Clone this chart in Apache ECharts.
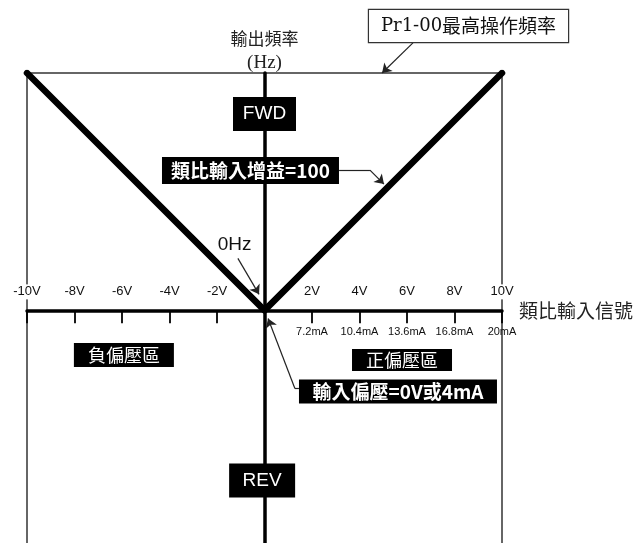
<!DOCTYPE html>
<html>
<head>
<meta charset="utf-8">
<title>類比輸入增益</title>
<script src="https://cdn.jsdelivr.net/npm/echarts@6/dist/echarts.min.js"></script>
<style>
    html, body { margin: 0; padding: 0; background: #fff; }
    #chart { width: 639px; height: 543px; }
</style>
</head>
<body>
<div id="chart"></div>
<script>
const VOLT_TICKS = [-10, -8, -6, -4, -2, 2, 4, 6, 8, 10];
const VOLT_LABELS = ['-10V', '-8V', '-6V', '-4V', '-2V', '2V', '4V', '6V', '8V', '10V'];
const CURRENT_TICKS = [2, 4, 6, 8, 10];
const CURRENT_LABELS = ['7.2mA', '10.4mA', '13.6mA', '16.8mA', '20mA'];
const GAIN_CURVE = [[-10, 100], [0, 0], [10, 100]];
const MAX_FREQ = 100;
const MIN_FREQ = -98;

const SANS = "'Liberation Sans', Arial, sans-serif";
const CJK = "'Noto Sans CJK TC', sans-serif";
const SERIF = "'DejaVu Serif', 'Noto Sans CJK TC', serif";

// black tag boxes etc., placed in data space
function tag(text, at, w, h, font) {
    return {
        value: at,
        label: {
            show: true,
            position: 'inside',
            formatter: text,
            width: w,
            height: h,
            lineHeight: h,
            padding: 0,
            align: 'center',
            verticalAlign: 'middle',
            backgroundColor: '#000',
            color: '#fff',
            fontFamily: font.family,
            fontSize: font.size,
            fontWeight: font.weight || 'normal'
        }
    };
}

const notes = [
    tag('FWD', [0, 82.7], 63, 34, { family: SANS, size: 19 }),
    tag('REV', [-0.1, -71.7], 66, 34, { family: SANS, size: 19 }),
    tag('類比輸入增益=100', [-0.59, 58.9], 177, 27, { family: CJK, size: 19, weight: 'bold' }),
    tag('輸入偏壓=0V或4mA', [5.62, -34.2], 198, 24, { family: CJK, size: 19, weight: 'bold' }),
    tag('負偏壓區', [-5.92, -18.8], 100, 24, { family: CJK, size: 18 }),
    tag('正偏壓區', [5.79, -20.9], 100, 22, { family: CJK, size: 18 }),
    {
        value: [-1.26, 27.8],
        label: {
            show: true,
            position: 'inside',
            formatter: '0Hz',
            backgroundColor: '#fff',
            padding: [1, 2],
            color: '#111',
            fontFamily: SANS,
            fontSize: 19
        }
    },
    {
        value: [8.59, 119.8],
        label: {
            show: true,
            position: 'inside',
            formatter: '{p|Pr1-00}{c|最高操作頻率}',
            width: 199,
            height: 32,
            lineHeight: 32,
            padding: 0,
            align: 'center',
            verticalAlign: 'middle',
            backgroundColor: '#fff',
            borderColor: '#333',
            borderWidth: 1.2,
            rich: {
                p: { fontFamily: SERIF, fontSize: 18, color: '#111', lineHeight: 32 },
                c: { fontFamily: CJK, fontSize: 19, color: '#111', lineHeight: 32 }
            }
        }
    }
];

const bendSegments = [
    [[3.14, 59.1], [4.44, 59.1]],
    [[1.45, -32.9], [1.28, -32.9]]
];
const arrowSegments = [
    [[6.25, 112.7], [4.95, 100]],
    [[4.44, 59.1], [5.03, 53.2]],
    [[-1.12, 21.9], [-0.23, 6.75]],
    [[1.28, -32.9], [0.15, -3.4]]
];

const frameSegments = [
    [[-10, MAX_FREQ], [10, MAX_FREQ]],
    [[-10, MAX_FREQ], [-10, MIN_FREQ]],
    [[10, MAX_FREQ], [10, MIN_FREQ]]
];

const chart = echarts.init(document.getElementById('chart'));

chart.setOption({
    animation: false,
    backgroundColor: '#fff',
    grid: { left: 27, right: 137, top: 73, bottom: 0 },
    xAxis: {
        type: 'value',
        min: -10,
        max: 10,
        interval: 2,
        z: 3,
        splitLine: { show: false },
        axisLine: { show: true, onZero: true, lineStyle: { color: '#000', width: 3.5 } },
        axisTick: { show: true, inside: false, length: 13, lineStyle: { color: '#000', width: 1.8 } },
        axisLabel: { show: false },
        name: '類比輸入信號',
        nameLocation: 'end',
        nameGap: 17,
        nameTextStyle: { fontFamily: CJK, fontSize: 19, color: '#222' }
    },
    yAxis: {
        type: 'value',
        min: MIN_FREQ,
        max: MAX_FREQ,
        z: 3,
        splitLine: { show: false },
        axisTick: { show: false },
        axisLabel: { show: false },
        axisLine: { show: true, onZero: true, lineStyle: { color: '#000', width: 3.5 } },
        name: '{a|輸出頻率}\n{b|(Hz)}',
        nameLocation: 'end',
        nameGap: -2,
        nameTextStyle: {
            align: 'center',
            verticalAlign: 'bottom',
            rich: {
                a: { fontFamily: CJK, fontSize: 17, color: '#222', lineHeight: 24 },
                b: { fontFamily: "'Liberation Serif', serif", fontSize: 19, color: '#222', lineHeight: 24 }
            }
        }
    },
    series: [
        {
            type: 'lines',
            coordinateSystem: 'cartesian2d',
            z: 1,
            silent: true,
            clip: false,
            symbol: ['none', 'none'],
            lineStyle: { color: '#333', width: 1.5, opacity: 1 },
            data: frameSegments.map((coords) => ({ coords }))
        },
        {
            type: 'line',
            z: 2,
            silent: true,
            symbol: 'none',
            data: GAIN_CURVE,
            lineStyle: { color: '#000', width: 6.5, cap: 'round', join: 'round' }
        },
        {
            // voltage labels above the axis, white boxes cut the lines
            type: 'scatter',
            z: 4,
            silent: true,
            symbolSize: 0,
            itemStyle: { opacity: 1 },
            data: VOLT_TICKS.map((x, i) => ({ value: [x, 0], name: VOLT_LABELS[i] })),
            label: {
                show: true,
                position: 'top',
                distance: 11,
                formatter: '{b}',
                color: '#111',
                backgroundColor: '#fff',
                padding: [1, 1],
                fontFamily: SANS,
                fontSize: 13
            }
        },
        {
            type: 'scatter',
            z: 4,
            silent: true,
            symbolSize: 0,
            itemStyle: { opacity: 1 },
            data: CURRENT_TICKS.map((x, i) => ({ value: [x, 0], name: CURRENT_LABELS[i] })),
            label: {
                show: true,
                position: 'bottom',
                distance: 16,
                formatter: '{b}',
                color: '#111',
                fontFamily: SANS,
                fontSize: 11
            }
        },
        {
            type: 'lines',
            coordinateSystem: 'cartesian2d',
            z: 9,
            silent: true,
            clip: false,
            symbol: ['none', 'none'],
            lineStyle: { color: '#222', width: 1.2, opacity: 1 },
            data: bendSegments.map((coords) => ({ coords }))
        },
        {
            type: 'lines',
            coordinateSystem: 'cartesian2d',
            z: 9,
            silent: true,
            clip: false,
            symbol: ['none', 'arrow'],
            symbolSize: 9,
            lineStyle: { color: '#222', width: 1.2, opacity: 1 },
            data: arrowSegments.map((coords) => ({ coords }))
        },
        {
            type: 'scatter',
            z: 10,
            silent: true,
            clip: false,
            symbolSize: 0,
            itemStyle: { opacity: 1 },
            data: notes
        }
    ]
});
</script>
</body>
</html>
